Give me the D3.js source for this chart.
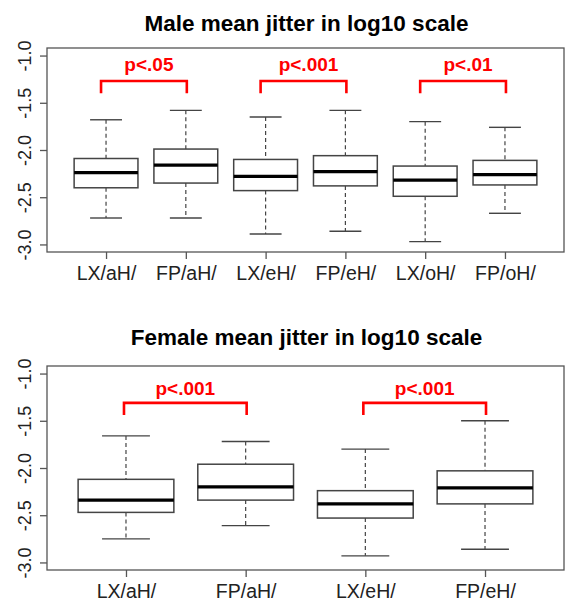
<!DOCTYPE html>
<html>
<head>
<meta charset="utf-8">
<script src="https://cdn.jsdelivr.net/npm/d3@7"></script>
<style>
  html, body { margin: 0; padding: 0; background: #fff; }
  svg { display: block; }
  text { font-family: "Liberation Sans", Arial, sans-serif; }
</style>
</head>
<body>
<svg id="chart" width="565" height="601"></svg>
<script>
// ---- Male panel ----
const maleCategories = ["LX/aH/", "FP/aH/", "LX/eH/", "FP/eH/", "LX/oH/", "FP/oH/"];
const maleLowerWhisker = [-2.72, -2.72, -2.89, -2.86, -2.97, -2.67];
const maleQ1           = [-2.40, -2.35, -2.43, -2.38, -2.49, -2.37];
const maleMedian       = [-2.24, -2.16, -2.28, -2.23, -2.32, -2.26];
const maleQ3           = [-2.09, -1.99, -2.10, -2.06, -2.17, -2.11];
const maleUpperWhisker = [-1.68, -1.58, -1.65, -1.58, -1.70, -1.76];
const maleTests = [
  { a: "LX/aH/", b: "FP/aH/", label: "p<.05" },
  { a: "LX/eH/", b: "FP/eH/", label: "p<.001" },
  { a: "LX/oH/", b: "FP/oH/", label: "p<.01" }
];

// ---- Female panel ----
const femaleCategories = ["LX/aH/", "FP/aH/", "LX/eH/", "FP/eH/"];
const femaleLowerWhisker = [-2.75, -2.61, -2.93, -2.86];
const femaleQ1           = [-2.47, -2.34, -2.53, -2.38];
const femaleMedian       = [-2.34, -2.20, -2.38, -2.21];
const femaleQ3           = [-2.12, -1.96, -2.24, -2.03];
const femaleUpperWhisker = [-1.66, -1.72, -1.80, -1.50];
const femaleTests = [
  { a: "LX/aH/", b: "FP/aH/", label: "p<.001" },
  { a: "LX/eH/", b: "FP/eH/", label: "p<.001" }
];

const yTicks = [-1.0, -1.5, -2.0, -2.5, -3.0];
const yLimits = [-3, -1];

const svg = d3.select("#chart");

function drawPanel(cfg) {
  const n = cfg.categories.length;
  const left = 47, right = 564;
  // R-style 4% padding around the axis limits
  const xPad = n * 0.04;
  const x = d3.scaleLinear().domain([0.5 - xPad, n + 0.5 + xPad]).range([left, right]);
  const ySpan = yLimits[1] - yLimits[0];
  const y = d3.scaleLinear()
    .domain([yLimits[0] - 0.04 * ySpan, yLimits[1] + 0.04 * ySpan])
    .range([cfg.bottom, cfg.top]);
  const unit = x(2) - x(1);
  const boxW = unit * 0.8;
  const capW = boxW * 0.5;

  const g = svg.append("g");

  // title
  g.append("text")
    .attr("x", (left + right) / 2 + 1)
    .attr("y", cfg.titleY)
    .attr("text-anchor", "middle")
    .attr("font-size", 22.5)
    .attr("font-weight", "bold")
    .attr("fill", "#000")
    .text(cfg.title);

  // plot frame
  g.append("rect")
    .attr("x", left).attr("y", cfg.top)
    .attr("width", right - left).attr("height", cfg.bottom - cfg.top)
    .attr("fill", "none").attr("stroke", "#555").attr("stroke-width", 1.3);

  // y axis
  const yAxis = d3.axisLeft(y).tickValues(yTicks).tickSize(7).tickPadding(6)
    .tickFormat(d3.format(".1f"));
  const ya = g.append("g").attr("transform", `translate(${left},0)`).call(yAxis);
  ya.select(".domain").remove();
  ya.selectAll(".tick line").attr("stroke", "#555").attr("stroke-width", 1.3);
  ya.selectAll(".tick text")
    .attr("font-size", 18)
    .attr("fill", "#222")
    .attr("text-anchor", "middle")
    .attr("dy", null)
    .attr("x", null)
    .attr("transform", "translate(-22,0) rotate(-90)")
    .attr("dominant-baseline", "central")
    .text(d => d3.format(".1f")(d).replace("−", "-"));

  // x axis
  const cats = d3.range(1, n + 1);
  const xAxis = d3.axisBottom(x).tickValues(cats).tickSize(7).tickPadding(7)
    .tickFormat(i => cfg.categories[i - 1]);
  const xa = g.append("g").attr("transform", `translate(0,${cfg.bottom})`).call(xAxis);
  xa.select(".domain").remove();
  xa.selectAll(".tick line").attr("stroke", "#555").attr("stroke-width", 1.3);
  xa.selectAll(".tick text").attr("font-size", 19.5).attr("fill", "#222");

  // boxes
  const stats = cats.map((c, i) => ({
    c,
    lo: cfg.lower[i], q1: cfg.q1[i], med: cfg.median[i], q3: cfg.q3[i], hi: cfg.upper[i]
  }));
  const bx = g.selectAll("g.box").data(stats).join("g").attr("class", "box");

  // dashed whiskers
  bx.append("line")
    .attr("x1", d => x(d.c)).attr("x2", d => x(d.c))
    .attr("y1", d => y(d.hi)).attr("y2", d => y(d.q3))
    .attr("stroke", "#444").attr("stroke-width", 1.2).attr("stroke-dasharray", "4,3");
  bx.append("line")
    .attr("x1", d => x(d.c)).attr("x2", d => x(d.c))
    .attr("y1", d => y(d.q1)).attr("y2", d => y(d.lo))
    .attr("stroke", "#444").attr("stroke-width", 1.2).attr("stroke-dasharray", "4,3");
  // whisker caps
  bx.append("line")
    .attr("x1", d => x(d.c) - capW / 2).attr("x2", d => x(d.c) + capW / 2)
    .attr("y1", d => y(d.hi)).attr("y2", d => y(d.hi))
    .attr("stroke", "#444").attr("stroke-width", 1.4);
  bx.append("line")
    .attr("x1", d => x(d.c) - capW / 2).attr("x2", d => x(d.c) + capW / 2)
    .attr("y1", d => y(d.lo)).attr("y2", d => y(d.lo))
    .attr("stroke", "#444").attr("stroke-width", 1.4);
  // box body
  bx.append("rect")
    .attr("x", d => x(d.c) - boxW / 2)
    .attr("y", d => y(d.q3))
    .attr("width", boxW)
    .attr("height", d => y(d.q1) - y(d.q3))
    .attr("fill", "#fff").attr("stroke", "#444").attr("stroke-width", 1.5);
  // median
  bx.append("line")
    .attr("x1", d => x(d.c) - boxW / 2).attr("x2", d => x(d.c) + boxW / 2)
    .attr("y1", d => y(d.med)).attr("y2", d => y(d.med))
    .attr("stroke", "#000").attr("stroke-width", 3.2);

  // significance brackets
  const red = "#ff0000";
  cfg.tests.forEach(t => {
    const ia = cfg.categories.indexOf(t.a) + 1;
    const ib = cfg.categories.indexOf(t.b) + 1;
    const xl = x(ia) + cfg.leftShift, xr = x(ib) + cfg.rightShift;
    const yTop = y(cfg.bracketY), yTip = y(cfg.bracketY - cfg.bracketDrop);
    g.append("path")
      .attr("d", `M${xl},${yTip} L${xl},${yTop} L${xr},${yTop} L${xr},${yTip}`)
      .attr("fill", "none").attr("stroke", red).attr("stroke-width", 2.6)
      .attr("stroke-linejoin", "miter");
    g.append("text")
      .attr("x", (xl + xr) / 2 + cfg.textShift)
      .attr("y", y(cfg.labelY))
      .attr("text-anchor", "middle")
      .attr("font-size", 19).attr("font-weight", "bold")
      .attr("fill", red)
      .text(t.label);
  });
}

drawPanel({
  title: "Male mean jitter in log10 scale",
  categories: maleCategories,
  lower: maleLowerWhisker, q1: maleQ1, median: maleMedian, q3: maleQ3, upper: maleUpperWhisker,
  tests: maleTests,
  top: 48, bottom: 252, titleY: 31,
  bracketY: -1.27, bracketDrop: 0.13, labelY: -1.16,
  leftShift: -5, rightShift: 1, textShift: 5
});

drawPanel({
  title: "Female mean jitter in log10 scale",
  categories: femaleCategories,
  lower: femaleLowerWhisker, q1: femaleQ1, median: femaleMedian, q3: femaleQ3, upper: femaleUpperWhisker,
  tests: femaleTests,
  top: 366, bottom: 570, titleY: 345,
  bracketY: -1.31, bracketDrop: 0.13, labelY: -1.23,
  leftShift: -2, rightShift: 1, textShift: 0
});
</script>
</body>
</html>
